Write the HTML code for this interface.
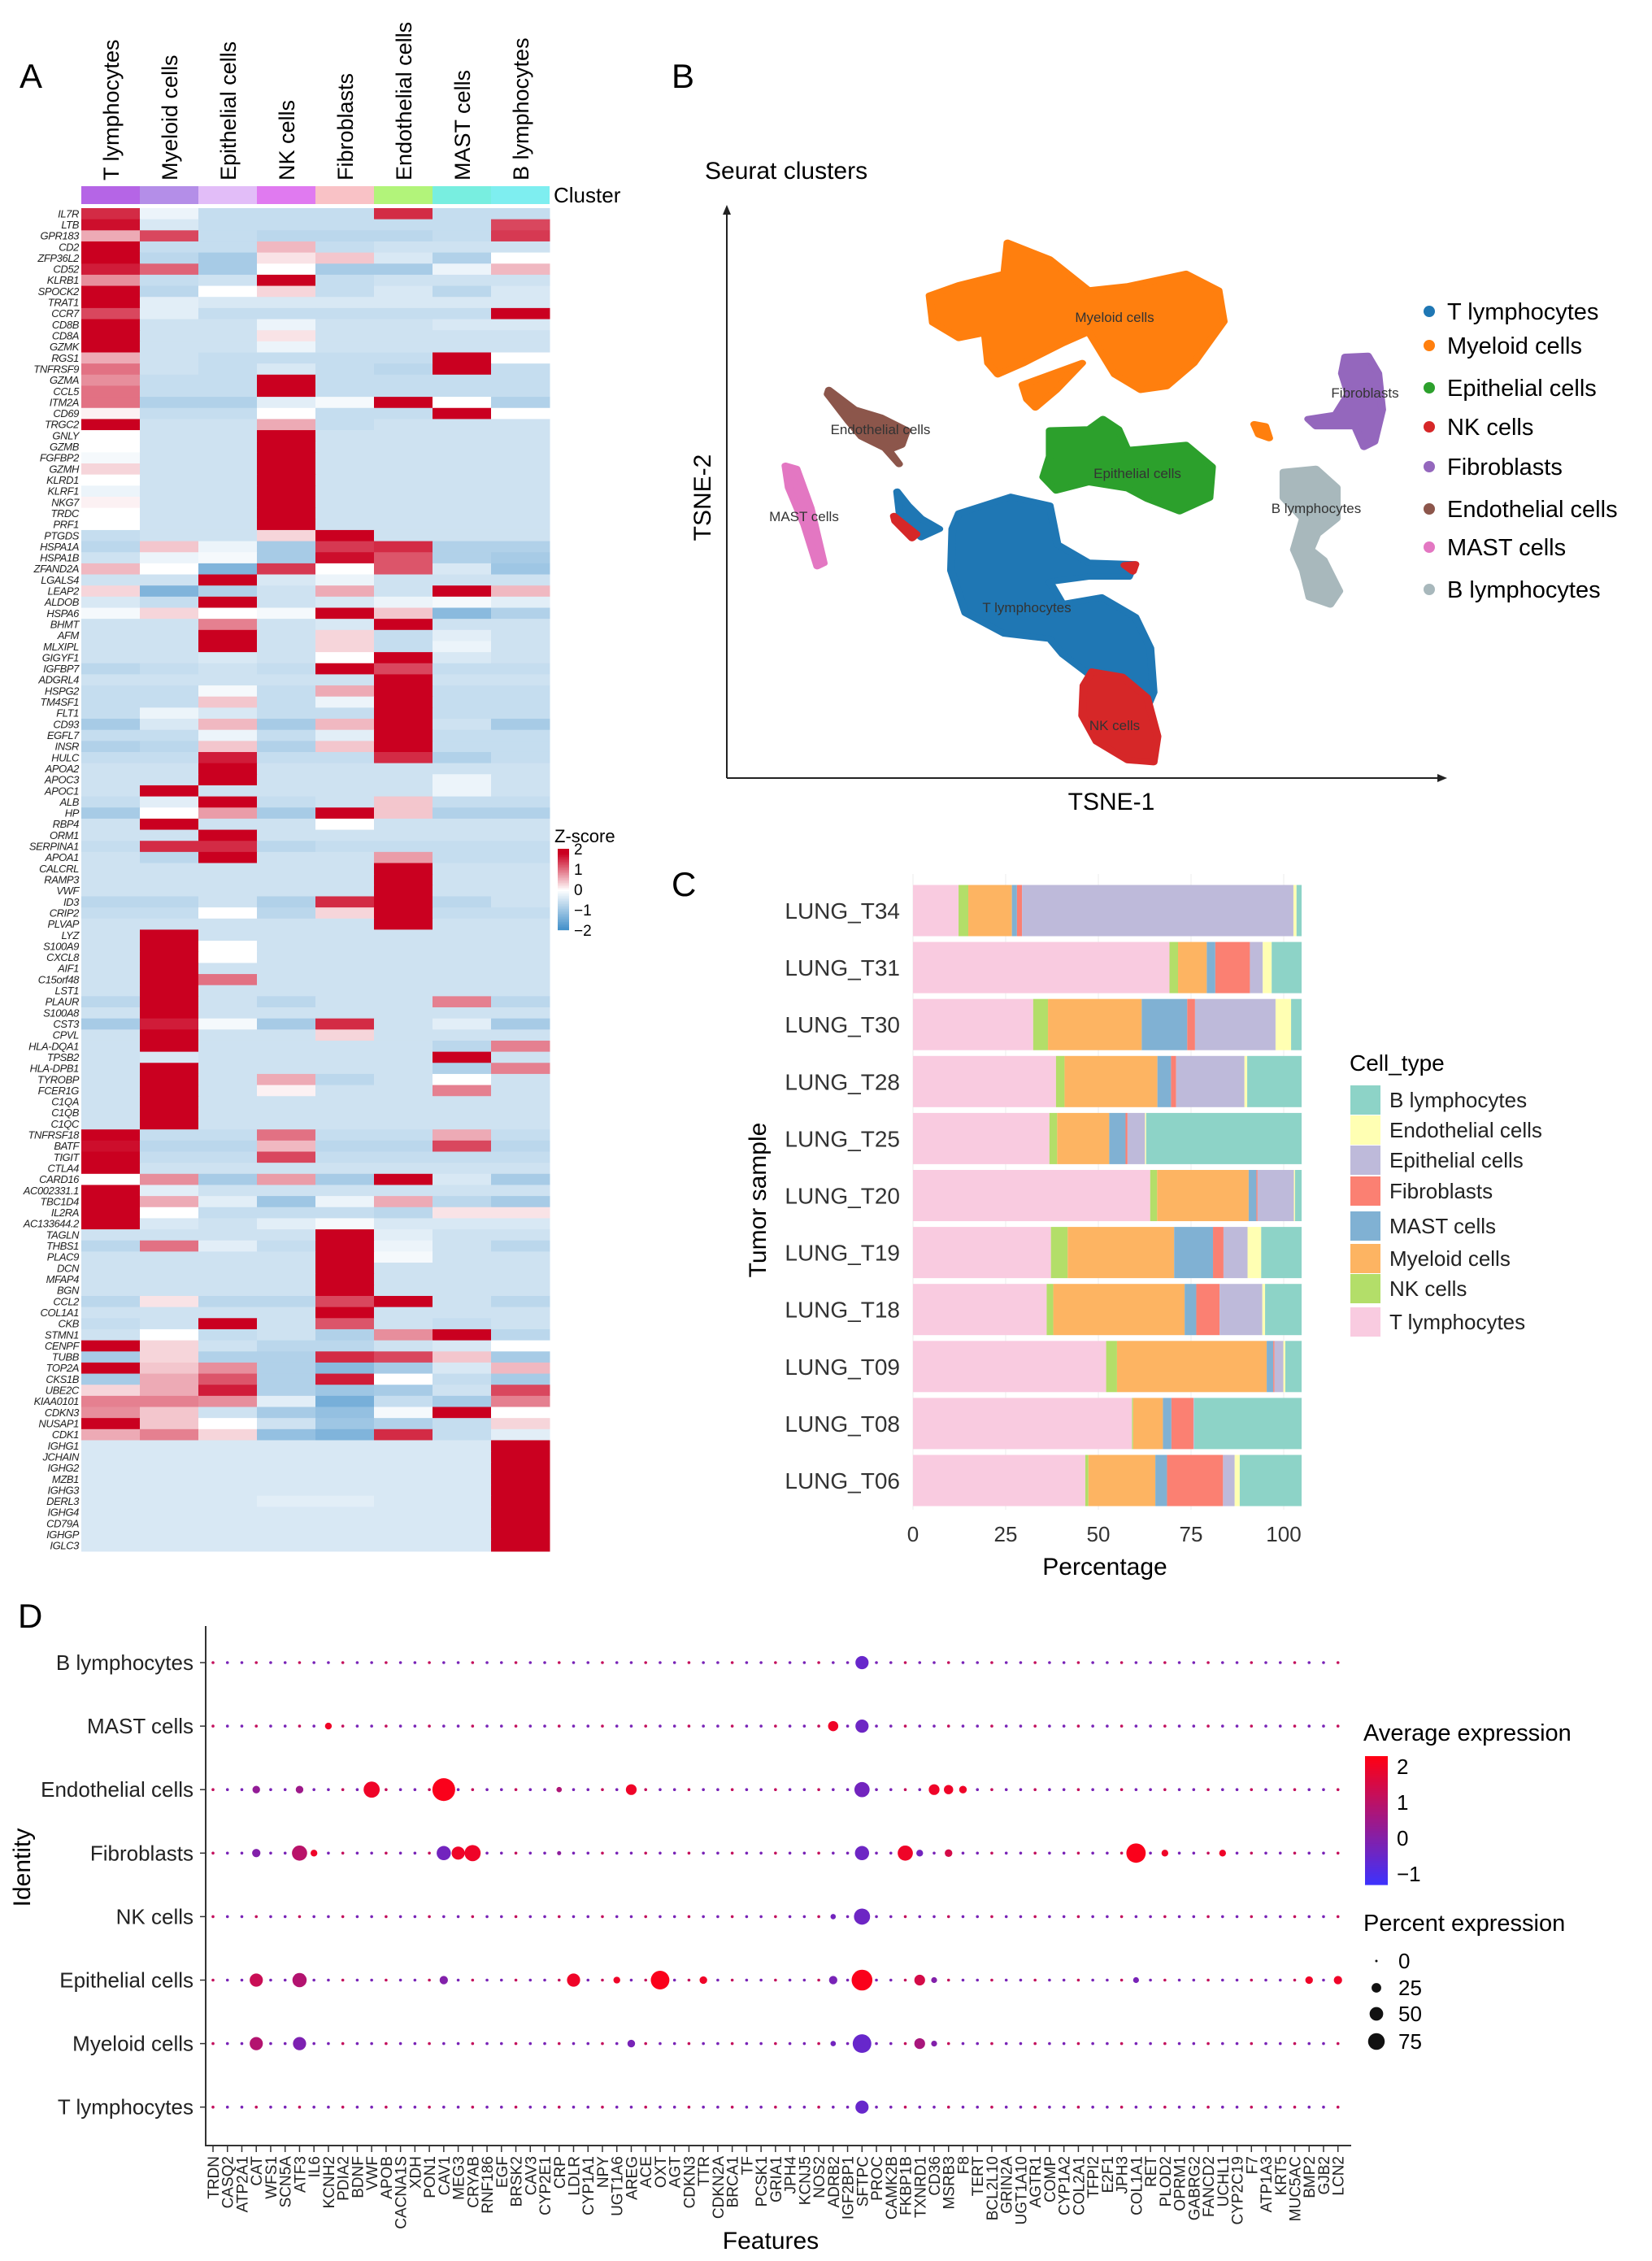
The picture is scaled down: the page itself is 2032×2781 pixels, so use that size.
<!DOCTYPE html>
<html><head><meta charset="utf-8"><title>Figure</title>
<style>
html,body{margin:0;padding:0;background:#fff;}
svg{display:block;font-family:"Liberation Sans",Arial,sans-serif;}
</style></head>
<body>
<svg id="fig" xmlns="http://www.w3.org/2000/svg" width="2032" height="2781" viewBox="0 0 2032 2781">
<rect x="0" y="0" width="2032" height="2781" fill="#fff"/>
<text x="24" y="108" font-size="42">A</text>
<text x="826" y="108" font-size="42">B</text>
<text x="826" y="1102" font-size="42">C</text>
<text x="22" y="2002" font-size="42">D</text>

<g id="panelA"></g>
<g id="panelB"></g>
<g id="panelC"></g>
<g id="panelD"></g>
</svg>
<script>
// ===== Panel A data =====
const heatClusters = ['T lymphocytes','Myeloid cells','Epithelial cells','NK cells','Fibroblasts','Endothelial cells','MAST cells','B lymphocytes'];
const clusterColors = ['#b565e6','#b48ee8','#e2bdf8','#e07af0','#f9c2c6','#b2f47a','#78eee0','#7eeef0'];
const heatGenes = ['IL7R','LTB','GPR183','CD2','ZFP36L2','CD52','KLRB1','SPOCK2','TRAT1','CCR7','CD8B','CD8A','GZMK','RGS1','TNFRSF9','GZMA','CCL5','ITM2A','CD69','TRGC2','GNLY','GZMB','FGFBP2','GZMH','KLRD1','KLRF1','NKG7','TRDC','PRF1','PTGDS','HSPA1A','HSPA1B','ZFAND2A','LGALS4','LEAP2','ALDOB','HSPA6','BHMT','AFM','MLXIPL','GIGYF1','IGFBP7','ADGRL4','HSPG2','TM4SF1','FLT1','CD93','EGFL7','INSR','HULC','APOA2','APOC3','APOC1','ALB','HP','RBP4','ORM1','SERPINA1','APOA1','CALCRL','RAMP3','VWF','ID3','CRIP2','PLVAP','LYZ','S100A9','CXCL8','AIF1','C15orf48','LST1','PLAUR','S100A8','CST3','CPVL','HLA-DQA1','TPSB2','HLA-DPB1','TYROBP','FCER1G','C1QA','C1QB','C1QC','TNFRSF18','BATF','TIGIT','CTLA4','CARD16','AC002331.1','TBC1D4','IL2RA','AC133644.2','TAGLN','THBS1','PLAC9','DCN','MFAP4','BGN','CCL2','COL1A1','CKB','STMN1','CENPF','TUBB','TOP2A','CKS1B','UBE2C','KIAA0101','CDKN3','NUSAP1','CDK1','IGHG1','JCHAIN','IGHG2','MZB1','IGHG3','DERL3','IGHG4','CD79A','IGHGP','IGLC3'];
const heatZ = [
[1.5,-0.2,-0.6,-0.6,-0.6,1.5,-0.6,-0.6],
[1.7,-0.4,-0.6,-0.6,-0.6,-0.6,-0.6,1.3],
[0.6,1.3,-0.6,-0.7,-0.7,-0.7,-0.6,1.4],
[2.2,-0.6,-0.6,0.5,-0.6,-0.5,-0.5,-0.5],
[2.2,-0.7,-0.9,0.2,0.4,-0.4,-0.8,0.0],
[1.6,1.1,-0.9,0.0,-0.9,-0.9,-0.2,0.5],
[0.8,-0.6,-0.5,2.2,-0.6,-0.5,-0.5,-0.5],
[2.2,-0.7,0.0,0.3,-0.6,-0.4,-0.7,-0.4],
[2.2,-0.3,-0.4,-0.4,-0.4,-0.4,-0.4,-0.4],
[1.3,-0.3,-0.6,-0.6,-0.6,-0.6,-0.6,2.0],
[2.2,-0.5,-0.5,-0.2,-0.5,-0.5,-0.4,-0.4],
[2.2,-0.5,-0.5,0.2,-0.5,-0.5,-0.5,-0.5],
[2.2,-0.5,-0.5,-0.2,-0.5,-0.5,-0.5,-0.5],
[0.6,-0.5,-0.6,-0.6,-0.6,-0.6,2.2,0.0],
[1.0,-0.5,-0.6,-0.4,-0.6,-0.7,2.2,-0.6],
[0.8,-0.6,-0.6,2.2,-0.6,-0.6,-0.6,-0.6],
[1.0,-0.6,-0.6,2.2,-0.6,-0.6,-0.6,-0.6],
[1.0,-0.8,-0.8,-0.3,-0.1,1.8,0.0,-0.8],
[0.1,-0.6,-0.6,0.0,-0.6,-0.6,2.1,0.0],
[2.1,-0.5,-0.5,0.6,-0.6,-0.5,-0.5,-0.5],
[0.0,-0.5,-0.5,2.2,-0.5,-0.5,-0.5,-0.5],
[0.0,-0.5,-0.5,2.2,-0.5,-0.5,-0.5,-0.5],
[-0.1,-0.5,-0.5,2.2,-0.5,-0.5,-0.5,-0.5],
[0.3,-0.5,-0.5,2.2,-0.5,-0.5,-0.5,-0.5],
[0.0,-0.5,-0.5,2.2,-0.5,-0.5,-0.5,-0.5],
[-0.2,-0.5,-0.5,2.2,-0.5,-0.5,-0.5,-0.5],
[0.1,-0.5,-0.5,2.2,-0.5,-0.5,-0.5,-0.5],
[0.0,-0.5,-0.5,2.2,-0.5,-0.5,-0.5,-0.5],
[0.0,-0.5,-0.5,2.2,-0.5,-0.5,-0.5,-0.5],
[-0.6,-0.5,-0.5,0.3,2.2,-0.5,-0.5,-0.5],
[-0.7,0.4,-0.2,-0.9,1.4,1.5,-0.8,-0.8],
[-0.5,-0.2,-0.1,-0.9,1.7,1.2,-0.8,-0.9],
[0.5,0.0,-1.3,1.4,0.0,1.2,-0.4,-1.0],
[-0.5,-0.5,2.2,-0.4,-0.2,-0.5,-0.5,-0.5],
[0.3,-1.3,-0.8,-0.5,0.6,-0.5,1.8,0.5],
[-0.4,-0.6,2.2,-0.5,-0.4,-0.2,-0.1,-0.3],
[-0.1,0.3,0.0,-0.1,2.2,0.4,-1.2,-0.8],
[-0.5,-0.5,0.9,-0.5,-0.4,2.2,-0.5,-0.5],
[-0.5,-0.5,2.2,-0.5,0.3,-0.6,-0.3,-0.5],
[-0.5,-0.5,2.2,-0.5,0.3,-0.6,-0.2,-0.5],
[-0.5,-0.5,-0.4,-0.5,0.0,2.2,-0.4,-0.5],
[-0.7,-0.6,-0.5,-0.6,1.8,1.3,-0.6,-0.6],
[-0.5,-0.5,-0.5,-0.5,-0.5,2.2,-0.5,-0.5],
[-0.6,-0.6,-0.1,-0.6,0.6,2.2,-0.6,-0.6],
[-0.6,-0.6,0.4,-0.6,-0.2,2.2,-0.6,-0.6],
[-0.6,-0.2,-0.4,-0.6,-0.6,2.2,-0.6,-0.6],
[-0.9,-0.4,0.5,-0.9,0.5,2.2,-0.5,-0.9],
[-0.6,-0.6,-0.2,-0.6,-0.3,2.2,-0.6,-0.6],
[-0.8,-0.7,0.4,-0.8,0.4,2.2,-0.6,-0.6],
[-0.6,-0.6,1.6,-0.6,-0.6,1.5,-0.8,-0.6],
[-0.5,-0.5,2.2,-0.5,-0.5,-0.5,-0.5,-0.5],
[-0.5,-0.5,2.2,-0.5,-0.5,-0.5,-0.2,-0.5],
[-0.5,2.2,-0.5,-0.5,-0.5,-0.5,-0.2,-0.5],
[-0.6,-0.3,2.2,-0.6,-0.5,0.4,-0.6,-0.6],
[-0.9,0.0,0.7,-0.9,2.2,0.4,-0.8,-0.8],
[-0.5,2.2,-0.5,-0.5,0.0,-0.5,-0.5,-0.5],
[-0.5,-0.5,2.2,-0.5,-0.5,-0.5,-0.5,-0.5],
[-0.6,1.5,1.5,-0.7,-0.6,-0.6,-0.6,-0.6],
[-0.5,-0.7,2.2,-0.5,-0.5,0.7,-0.6,-0.6],
[-0.5,-0.5,-0.5,-0.5,-0.5,2.2,-0.5,-0.5],
[-0.5,-0.5,-0.5,-0.5,-0.5,2.2,-0.5,-0.5],
[-0.5,-0.5,-0.5,-0.5,-0.5,2.2,-0.5,-0.5],
[-0.7,-0.7,-0.5,-0.8,1.5,1.8,-0.7,-0.5],
[-0.6,-0.6,0.0,-0.7,0.3,2.2,-0.6,-0.6],
[-0.5,-0.5,-0.5,-0.5,-0.5,2.2,-0.5,-0.5],
[-0.5,2.2,-0.5,-0.5,-0.5,-0.5,-0.5,-0.5],
[-0.5,2.2,0.0,-0.5,-0.5,-0.5,-0.5,-0.5],
[-0.5,2.2,0.0,-0.5,-0.5,-0.5,-0.5,-0.5],
[-0.5,2.2,-0.5,-0.5,-0.5,-0.5,-0.5,-0.5],
[-0.5,2.2,1.0,-0.5,-0.5,-0.5,-0.5,-0.5],
[-0.5,2.2,-0.5,-0.5,-0.5,-0.5,-0.5,-0.5],
[-0.7,2.2,-0.5,-0.7,-0.5,-0.5,0.9,-0.7],
[-0.5,2.2,-0.5,-0.5,-0.5,-0.5,-0.5,-0.5],
[-0.9,1.6,-0.1,-0.9,1.5,-0.5,-0.3,-0.9],
[-0.5,2.2,-0.5,-0.5,0.3,-0.5,-0.5,-0.5],
[-0.5,2.2,-0.5,-0.5,-0.5,-0.5,-0.7,0.9],
[-0.5,-0.4,-0.5,-0.5,-0.5,-0.5,2.2,-0.5],
[-0.5,2.2,-0.5,-0.5,-0.5,-0.5,-0.8,0.9],
[-0.5,2.2,-0.5,0.6,-0.7,-0.5,0.0,-0.5],
[-0.5,2.2,-0.5,0.1,-0.5,-0.5,0.9,-0.5],
[-0.5,2.2,-0.5,-0.5,-0.5,-0.5,-0.5,-0.5],
[-0.5,2.2,-0.5,-0.5,-0.5,-0.5,-0.5,-0.5],
[-0.5,2.2,-0.5,-0.5,-0.5,-0.5,-0.5,-0.5],
[1.8,-0.6,-0.6,1.0,-0.6,-0.6,0.6,-0.6],
[1.7,-0.7,-0.7,0.5,-0.7,-0.7,1.3,-0.7],
[2.0,-0.6,-0.6,1.3,-0.6,-0.6,-0.6,-0.6],
[2.0,-0.5,-0.5,-0.5,-0.5,-0.5,-0.5,-0.5],
[0.0,0.8,-0.9,0.7,-0.9,1.8,-0.4,-0.9],
[2.2,-0.3,-0.5,-0.5,-0.5,-0.5,-0.5,-0.5],
[1.9,0.6,-0.3,-1.0,-0.2,0.6,-0.7,-0.9],
[2.2,0.0,-0.6,-0.6,-0.6,-0.7,0.2,0.2],
[2.2,-0.4,-0.5,-0.3,-0.1,-0.4,-0.4,-0.4],
[-0.5,-0.5,-0.5,-0.5,2.2,-0.3,-0.5,-0.5],
[-0.7,1.0,-0.3,-0.6,2.2,-0.2,-0.5,-0.7],
[-0.5,-0.5,-0.5,-0.5,2.2,-0.1,-0.5,-0.5],
[-0.5,-0.5,-0.5,-0.5,2.2,-0.5,-0.5,-0.5],
[-0.5,-0.5,-0.5,-0.5,2.2,-0.5,-0.5,-0.5],
[-0.5,-0.5,-0.5,-0.5,2.2,-0.5,-0.5,-0.5],
[-0.7,0.2,-0.7,-0.7,1.3,1.8,-0.5,-0.7],
[-0.5,-0.5,-0.5,-0.5,2.2,-0.5,-0.5,-0.5],
[-0.6,-0.5,2.2,-0.5,1.2,-0.5,-0.6,-0.5],
[-0.5,0.0,-0.6,-0.5,-0.8,0.8,2.2,-0.7],
[2.2,0.3,-0.5,-0.7,-0.7,-0.5,-0.4,0.0],
[-0.9,0.3,-0.8,-0.8,1.5,1.3,0.4,-0.9],
[1.8,0.4,0.8,-0.8,-1.2,-0.9,-0.4,0.5],
[-0.9,0.6,1.2,-0.8,1.6,0.0,-0.6,-0.9],
[0.3,0.6,1.6,-0.8,-1.0,-0.9,-0.5,1.3],
[0.9,0.9,0.8,-0.3,-1.4,-0.6,-0.9,0.9],
[0.8,0.4,-0.5,-0.9,-1.1,-0.1,1.8,0.0],
[2.2,0.4,0.0,-0.5,-1.0,-0.8,-0.6,0.3],
[0.6,0.9,0.3,-1.1,-1.3,1.5,-0.6,-0.3],
[-0.4,-0.4,-0.4,-0.4,-0.4,-0.4,-0.4,2.2],
[-0.4,-0.4,-0.4,-0.4,-0.4,-0.4,-0.4,2.2],
[-0.4,-0.4,-0.4,-0.4,-0.4,-0.4,-0.4,2.2],
[-0.4,-0.4,-0.4,-0.4,-0.4,-0.4,-0.4,2.2],
[-0.4,-0.4,-0.4,-0.4,-0.4,-0.4,-0.4,2.2],
[-0.4,-0.4,-0.4,-0.3,-0.3,-0.4,-0.4,2.2],
[-0.4,-0.4,-0.4,-0.4,-0.4,-0.4,-0.4,2.2],
[-0.4,-0.4,-0.4,-0.4,-0.4,-0.4,-0.4,2.2],
[-0.4,-0.4,-0.4,-0.4,-0.4,-0.4,-0.4,2.2],
[-0.4,-0.4,-0.4,-0.4,-0.4,-0.4,-0.4,2.2]
];
const zTicks = [2,1,0,-1,-2];
const zTickLabels = ['2','1','0','\u22121','\u22122'];

// ===== Panel B data =====
const tsneLabels = ['T lymphocytes','Myeloid cells','Epithelial cells','NK cells','Fibroblasts','Endothelial cells','MAST cells','B lymphocytes'];
const tsneColors = ['#1f77b4','#ff7f0e','#2ca02c','#d62728','#9467bd','#8c564b','#e377c2','#a8b8bc'];

// ===== Panel C data =====
const samples = ['LUNG_T34','LUNG_T31','LUNG_T30','LUNG_T28','LUNG_T25','LUNG_T20','LUNG_T19','LUNG_T18','LUNG_T09','LUNG_T08','LUNG_T06'];
const pctTLymph = [11.7,66,30.9,36.8,35.1,61.4,35.5,34.4,49.8,56.7,44.3];
const pctNK = [2.5,2.2,3.8,2.2,2,1.8,4.3,1.7,2.8,0.3,0.8];
const pctMyeloid = [11.2,7.4,24.1,23.9,13.4,23.7,27.4,33.8,38.6,7.7,17.2];
const pctMast = [1.3,2.2,11.7,3.5,4.2,2,10,3,1.7,2.2,3];
const pctFibro = [1.3,8.9,2,1.3,0.5,0.3,2.7,6,0.3,5.7,14.4];
const pctEpith = [69.7,3.3,20.7,17.6,4.5,9.4,6.2,11,2.3,0.2,3];
const pctEndo = [0.8,2.3,4,0.7,0.3,0.3,3.5,0.7,0.5,0,1.3];
const pctBLymph = [1.3,7.7,2.7,14,40,1.7,10.4,9.4,4.2,27.8,15.9];
const pctTicks = [0,25,50,75,100];
const legendTypes = ['B lymphocytes','Endothelial cells','Epithelial cells','Fibroblasts','MAST cells','Myeloid cells','NK cells','T lymphocytes'];

// ===== Panel D data =====
const identities = ['B lymphocytes','MAST cells','Endothelial cells','Fibroblasts','NK cells','Epithelial cells','Myeloid cells','T lymphocytes'];
const features = ['TRDN','CASQ2','ATP2A1','CAT','WFS1','SCN5A','ATF3','IL6','KCNH2','PDIA2','BDNF','VWF','APOB','CACNA1S','XDH','PON1','CAV1','MEG3','CRYAB','RNF186','EGF','BRSK2','CAV3','CYP2E1','CRP','LDLR','CYP1A1','NPY','UGT1A6','AREG','ACE','OXT','AGT','CDKN3','TTR','CDKN2A','BRCA1','TF','PCSK1','GRIA1','JPH4','KCNJ5','NOS2','ADRB2','IGF2BP1','SFTPC','PROC','CAMK2B','FKBP1B','TXNRD1','CD36','MSRB3','F8','TERT','BCL2L10','GRIN2A','UGT1A10','AGTR1','COMP','CYP1A2','COL2A1','TFPI2','E2F1','JPH3','COL1A1','RET','PLOD2','OPRM1','GABRG2','FANCD2','UCHL1','CYP2C19','F7','ATP1A3','KRT5','MUC5AC','BMP2','GJB2','LCN2'];
const dotRow  = [0, 1,1,1, 2,2,2,2,2,2,2,2,2,2, 3,3,3,3,3,3,3,3,3,3,3,3,3,3, 4,4, 5,5,5,5,5,5,5,5,5,5,5,5,5,5, 6,6,6,6,6,6,6, 7];
const dotFeat = [45, 8,43,45, 3,6,11,16,24,29,45,50,51,52, 3,6,7,16,17,18,24,45,48,49,51,64,66,70, 43,45, 3,6,16,25,28,31,34,43,45,49,50,64,76,78, 3,6,29,43,45,49,50, 45];
const dotPct  = [30, 8,18,30, 10,10,45,90,5,20,40,20,15,10, 12,40,8,35,30,45,3,35,40,8,10,65,8,8, 5,45, 30,35,12,30,8,60,10,12,75,20,6,6,10,12, 30,30,10,5,60,20,6, 30];
const dotAvg  = [-0.5, 2,2,-0.4, 0.3,0.5,2,2.2,0.8,2,-0.3,2,2,2, 0,1,2,-0.3,2,2,0.2,-0.4,2,-0.3,1.5,2.2,2,2, -0.3,-0.4, 1.3,0.9,0,2,2,2.2,2,-0.2,2.2,1.5,0,-0.2,2,2, 0.9,-0.1,-0.2,-0.3,-0.5,0.7,0, -0.5];
const avgTicks = [2,1,0,-1];
const pctLegend = [0,25,50,75];

// ===== helpers =====
const NS = 'http://www.w3.org/2000/svg';
function mk(parent, tag, attrs, text){
  const el = document.createElementNS(NS, tag);
  for (const k in attrs) el.setAttribute(k, attrs[k]);
  if (text !== undefined) el.textContent = text;
  parent.appendChild(el);
  return el;
}
function mix(a,b,t){return [0,1,2].map(i=>Math.round(a[i]+(b[i]-a[i])*t));}
function rgb(c){return 'rgb('+c[0]+','+c[1]+','+c[2]+')';}
function heatColor(v){
  v=Math.max(-2,Math.min(2,v));
  if(v>=0){ const t=Math.min(1,v/1.8); return rgb(mix([255,255,255],[202,0,32],t)); }
  return rgb(mix([255,255,255],[60,140,200],-v/2));
}
function avgColor(v){
  const t=Math.max(0,Math.min(1,(v+1.3)/3.6));
  return rgb(mix([60,50,255],[255,0,20],t));
}

// ===== Panel A =====
(function(){
  const g = document.getElementById('panelA');
  const x0=100, colW=72, y0=256, rowH=1652/heatGenes.length;
  const colX = i => x0 + i*colW;
  const rowY = r => y0 + r*rowH;
  heatClusters.forEach((c,i)=>{
    const t = mk(g,'text',{x:colX(i)+colW/2+10,y:222,'font-size':27,transform:'rotate(-90 '+(colX(i)+colW/2+10)+' 222)'},c);
    
    
    const r = mk(g,'rect',{x:colX(i),y:229,width:colW,height:22,fill:clusterColors[i]});
    
    
  });
  const cl = mk(g,'text',{x:681,y:249,'font-size':26},'Cluster');
  
  
  heatZ.forEach((row,r)=>{
    row.forEach((v,c)=>{
      const cell = mk(g,'rect',{x:colX(c),y:rowY(r),width:colW+0.5,height:rowH+0.5,fill:heatColor(v)});
      
      
    });
    const gl = mk(g,'text',{x:97,y:rowY(r)+rowH/2+4.5,'font-size':13,'letter-spacing':'-0.4','font-style':'italic','text-anchor':'end',fill:'#222'},heatGenes[r]);
    
    
  });
  const zt = mk(g,'text',{x:682,y:1036,'font-size':22},'Z-score');
  
  
  const cbTop=1044, cbBot=1144;
  const zY = v => cbTop + (2-v)/4*(cbBot-cbTop);
  for(let i=0;i<50;i++){
    const v = 2 - 4*i/50;
    const s = mk(g,'rect',{x:686,y:cbTop+i*2,width:14,height:2.2,fill:heatColor(v)});
    
    
  }
  zTicks.forEach((v,i)=>{
    const tl = mk(g,'text',{x:706,y:zY(v)+7,'font-size':19},zTickLabels[i]);
    
    
  });
})();

// ===== Panel B =====
(function(){
  const g = document.getElementById('panelB');
  const t = mk(g,'text',{x:867,y:220,'font-size':30},'Seurat clusters');
  
  
  const ax = mk(g,'path',{d:'M894 957 L1772 957 M894 957 L894 262',stroke:'#222','stroke-width':2,fill:'none'});
  
  
  const ah1 = mk(g,'path',{d:'M1780 957 L1768 952 L1768 962 Z',fill:'#222'});
  
  
  const ah2 = mk(g,'path',{d:'M894 252 L889 264 L899 264 Z',fill:'#222'});
  
  
  const xt = mk(g,'text',{x:1367,y:996,'font-size':30,'text-anchor':'middle'},'TSNE-1');
  
  
  const yt = mk(g,'text',{x:874,y:612,'font-size':30,'text-anchor':'middle',transform:'rotate(-90 874 612)'},'TSNE-2');
  
  
  const shapes = [
    [0,'M500 990 L580 958 L640 975 L652 1050 L700 1085 L770 1088 L762 1112 L700 1112 L640 1122 L660 1165 L720 1152 L772 1190 L795 1250 L800 1335 L785 1380 L745 1335 L700 1300 L660 1262 L640 1232 L570 1222 L510 1182 L488 1100 L490 1020 Z M405 948 L422 975 L442 1000 L470 1020 L442 1036 L410 1002 Z'],
    [3,'M705 1295 L752 1305 L790 1345 L806 1420 L800 1470 L760 1466 L712 1430 L690 1380 L692 1322 Z M400 995 L435 1030 L428 1038 L402 1005 Z M755 1090 L772 1088 L768 1102 Z'],
    [1,'M575 468 L640 500 L700 560 L760 552 L850 528 L900 560 L908 620 L862 700 L820 745 L780 752 L740 722 L700 640 L660 662 L600 700 L560 722 L545 700 L540 642 L500 652 L460 622 L455 570 L500 550 L570 528 Z M598 742 L690 700 L650 752 L618 786 L605 770 Z M955 818 L972 822 L978 845 L962 838 Z'],
    [2,'M640 830 L700 828 L722 808 L746 828 L760 868 L850 858 L890 900 L886 960 L840 986 L790 962 L760 942 L700 930 L650 946 L630 920 L640 880 Z'],
    [5,'M300 752 L340 790 L380 805 L420 830 L412 858 L392 868 L408 895 L386 864 L350 842 L330 812 L298 760 Z'],
    [6,'M233 898 L250 904 L272 980 L292 1086 L282 1092 L262 1012 L238 940 Z'],
    [4,'M1095 688 L1130 686 L1146 720 L1152 790 L1140 852 L1124 862 L1110 822 L1050 822 L1038 808 L1080 800 L1100 760 L1090 720 Z'],
    [7,'M1000 910 L1050 904 L1082 940 L1082 1000 L1052 1030 L1042 1060 L1062 1080 L1086 1140 L1072 1166 L1040 1152 L1030 1100 L1016 1060 L1030 1000 L1000 960 Z']
  ];
  const sg = mk(g,'g',{transform:'translate(780 0) scale(0.7987 0.6378)'});
  
  
  shapes.forEach(s=>{
    const p = mk(sg,'path',{d:s[1],fill:tsneColors[s[0]],stroke:tsneColors[s[0]],'stroke-width':12,'stroke-linejoin':'round'});
    
    
  });
  const labs = [['Myeloid cells',1371,396],['Endothelial cells',1083,534],['Epithelial cells',1399,588],['MAST cells',989,641],['Fibroblasts',1679,489],['B lymphocytes',1619,631],['T lymphocytes',1263,753],['NK cells',1371,898]];
  labs.forEach(l=>{
    const tl = mk(g,'text',{x:l[1],y:l[2],'font-size':17,'text-anchor':'middle',fill:'#333'},l[0]);
    
    
  });
  const ly = [383,425,477,525,574,626,673,725];
  tsneLabels.forEach((n,i)=>{
    const d = mk(g,'circle',{cx:1758,cy:ly[i],r:7,fill:tsneColors[i]});
    
    
    const tx = mk(g,'text',{x:1780,y:ly[i]+10,'font-size':29},n);
    
    
  });
})();

// ===== Panel C =====
(function(){
  const g = document.getElementById('panelC');
  const series = [pctTLymph,pctNK,pctMyeloid,pctMast,pctFibro,pctEpith,pctEndo,pctBLymph];
  const colors = ['#f9cbe0','#b3de69','#fdb462','#80b1d3','#fb8072','#bebada','#ffffb3','#8dd3c7'];
  const x0=1123, barW=478, tickUnit=4.56;
  const barX = f => x0 + f*barW;
  const tickX = v => x0 + v*tickUnit;
  const rowY = i => 1120 + i*70.1;
  pctTicks.forEach(v=>{
    const gl = mk(g,'line',{x1:tickX(v),x2:tickX(v),y1:1075,y2:1857,stroke:'#eee','stroke-width':1});
    
    
  });
  samples.forEach((s,i)=>{
    const tot = series.reduce((a,arr)=>a+arr[i],0);
    let acc=0;
    series.forEach((arr,k)=>{
      const w = arr[i]/tot;
      const r = mk(g,'rect',{x:barX(acc),y:rowY(i)-31.5,width:w*barW,height:63,fill:colors[k]});
      
      
      acc+=w;
    });
    const lab = mk(g,'text',{x:1107,y:rowY(i)+10,'font-size':28,'text-anchor':'end',fill:'#333'},s);
    
    
  });
  pctTicks.forEach(v=>{
    const tl = mk(g,'text',{x:tickX(v),y:1896,'font-size':26,'text-anchor':'middle',fill:'#333'},String(v));
    
    
  });
  const xt = mk(g,'text',{x:1359,y:1937,'font-size':30,'text-anchor':'middle'},'Percentage');
  
  
  const yt = mk(g,'text',{x:942,y:1476,'font-size':30,'text-anchor':'middle',transform:'rotate(-90 942 1476)'},'Tumor sample');
  
  
  const lt = mk(g,'text',{x:1660,y:1317,'font-size':28},'Cell_type');
  
  
  const legColors = ['#8dd3c7','#ffffb3','#bebada','#fb8072','#80b1d3','#fdb462','#b3de69','#f9cbe0'];
  const ly = [1353,1390,1427,1465,1508,1548,1585,1626];
  legendTypes.forEach((n,i)=>{
    const k = mk(g,'rect',{x:1661,y:ly[i]-18,width:37,height:36,fill:legColors[i]});
    
    
    const tx = mk(g,'text',{x:1709,y:ly[i]+9,'font-size':26,fill:'#222'},n);
    
    
  });
})();

// ===== Panel D =====
(function(){
  const g = document.getElementById('panelD');
  const fx = i => 262 + i*17.74;
  const ry = r => 2045 + r*78.1;
  const rad = p => Math.max(1.8, 12.8*Math.sqrt(p/75));
  const ax = mk(g,'path',{d:'M253 2000 L253 2639 L1662 2639',stroke:'#333','stroke-width':2,fill:'none'});
  
  
  identities.forEach((n,r)=>{
    const l = mk(g,'line',{x1:246,x2:253,y1:ry(r),y2:ry(r),stroke:'#333','stroke-width':1.5});
    
    
    const t = mk(g,'text',{x:238,y:ry(r)+9,'font-size':26,'text-anchor':'end',fill:'#222'},n);
    
    
  });
  const big = {};
  dotRow.forEach((r,k)=>{ big[r+'_'+dotFeat[k]] = k; });
  features.forEach((f,i)=>{
    const tk = mk(g,'line',{x1:fx(i),x2:fx(i),y1:2639,y2:2647,stroke:'#333','stroke-width':1.5});
    
    
    const tx = mk(g,'text',{x:fx(i)+7,y:2652,'font-size':19,'text-anchor':'end',fill:'#222',transform:'rotate(-90 '+(fx(i)+7)+' 2652)'},f);
    
    
    identities.forEach((n,r)=>{
      if (big[r+'_'+i] !== undefined) return;
      const c = mk(g,'circle',{cx:fx(i),cy:ry(r),r:1.8,fill:avgColor((i%3===0)?1.2:-0.2)});
      
      
    });
  });
  dotRow.forEach((r,k)=>{
    const c = mk(g,'circle',{cx:fx(dotFeat[k]),cy:ry(r),r:rad(dotPct[k]),fill:avgColor(dotAvg[k])});
    
    
  });
  const xt = mk(g,'text',{x:948,y:2766,'font-size':30,'text-anchor':'middle'},'Features');
  
  
  const yt = mk(g,'text',{x:37,y:2297,'font-size':30,'text-anchor':'middle',transform:'rotate(-90 37 2297)'},'Identity');
  
  
  const at = mk(g,'text',{x:1677,y:2141,'font-size':29},'Average expression');
  
  
  const cTop=2160, cBot=2318;
  const aY = v => cTop + (2.3-v)/3.6*(cBot-cTop);
  for(let i=0;i<60;i++){
    const v = 2.3 - 3.6*i/60;
    const s = mk(g,'rect',{x:1679,y:cTop+i*(cBot-cTop)/60,width:28,height:(cBot-cTop)/60+0.6,fill:avgColor(v)});
    
    
  }
  avgTicks.forEach(v=>{
    const t = mk(g,'text',{x:1718,y:aY(v)+9,'font-size':26},v<0?'\u2212'+Math.abs(v):String(v));
    
    
  });
  const pt = mk(g,'text',{x:1677,y:2375,'font-size':29},'Percent expression');
  
  
  const py = [2412,2445,2477,2511];
  pctLegend.forEach((p,i)=>{
    const c = mk(g,'circle',{cx:1693,cy:py[i],r:Math.max(1.5,rad(p)*0.8),fill:'#111'});
    
    
    const t = mk(g,'text',{x:1720,y:py[i]+9,'font-size':26},String(p));
    
    
  });
})();
</script>
</body></html>
